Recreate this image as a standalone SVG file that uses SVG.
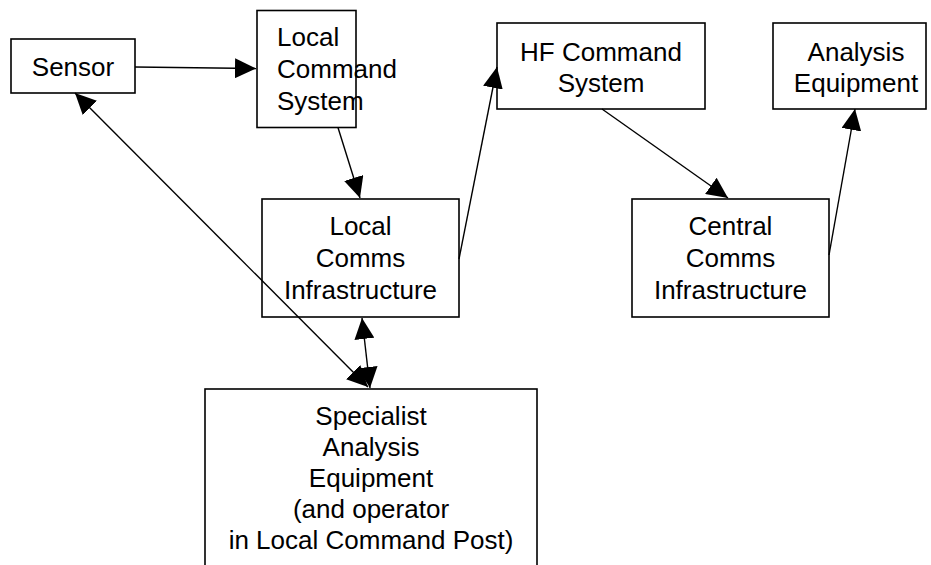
<svg xmlns="http://www.w3.org/2000/svg" width="931" height="565" viewBox="0 0 931 565">
<style>
  .box { fill: #ffffff; stroke: #000000; stroke-width: 1.6; }
  .lbl { font-family: "Liberation Sans", Arial, sans-serif; font-size: 26px; fill: #000000; }
  .mid { text-anchor: middle; }
  .edge { stroke: #000000; stroke-width: 1.4; fill: none; marker-end: url(#ah); }
  .both { marker-start: url(#ahs); }
</style>
<defs>
  <marker id="ah" markerUnits="userSpaceOnUse" markerWidth="22" markerHeight="20" refX="21" refY="10" orient="auto" viewBox="0 0 22 20">
    <path d="M0,0 L21,10 L0,20 z" fill="#000000"/>
  </marker>
  <marker id="ahs" markerUnits="userSpaceOnUse" markerWidth="22" markerHeight="20" refX="21" refY="10" orient="auto-start-reverse" viewBox="0 0 22 20">
    <path d="M0,0 L21,10 L0,20 z" fill="#000000"/>
  </marker>
</defs>

<g id="sensor">
  <rect class="box" x="11" y="39" width="124" height="54"/>
  <text class="lbl mid" x="73" y="76">Sensor</text>
</g>

<g id="local-command-system">
  <rect class="box" x="257" y="10.5" width="99" height="117"/>
  <text class="lbl" x="277" y="46">Local</text>
  <text class="lbl" x="277" y="78">Command</text>
  <text class="lbl" x="277" y="110">System</text>
</g>

<g id="hf-command-system">
  <rect class="box" x="497" y="23" width="208" height="86"/>
  <text class="lbl mid" x="601" y="61">HF Command</text>
  <text class="lbl mid" x="601" y="92">System</text>
</g>

<g id="analysis-equipment">
  <rect class="box" x="773" y="23" width="153" height="86"/>
  <text class="lbl mid" x="856" y="61">Analysis</text>
  <text class="lbl mid" x="856" y="92">Equipment</text>
</g>

<g id="local-comms-infrastructure">
  <rect class="box" x="262" y="199" width="197" height="118"/>
  <text class="lbl mid" x="360.5" y="235">Local</text>
  <text class="lbl mid" x="360.5" y="267">Comms</text>
  <text class="lbl mid" x="360.5" y="299">Infrastructure</text>
</g>

<g id="central-comms-infrastructure">
  <rect class="box" x="632" y="199" width="197" height="118"/>
  <text class="lbl mid" x="730.5" y="235">Central</text>
  <text class="lbl mid" x="730.5" y="267">Comms</text>
  <text class="lbl mid" x="730.5" y="299">Infrastructure</text>
</g>

<g id="specialist-analysis-equipment">
  <rect class="box" x="205" y="389" width="332" height="200"/>
  <text class="lbl mid" x="371" y="425">Specialist</text>
  <text class="lbl mid" x="371" y="456">Analysis</text>
  <text class="lbl mid" x="371" y="487">Equipment</text>
  <text class="lbl mid" x="371" y="518">(and operator</text>
  <text class="lbl mid" x="371" y="549">in Local Command Post)</text>
</g>

<g id="connectors">
  <line class="edge" x1="135" y1="67" x2="256" y2="68.5"/>
  <line class="edge" x1="338" y1="127.5" x2="360" y2="198"/>
  <line class="edge" x1="459" y1="259" x2="497" y2="67"/>
  <line class="edge" x1="602" y1="109" x2="728" y2="198"/>
  <line class="edge" x1="829" y1="255" x2="855" y2="109"/>
  <line class="edge both" x1="362" y1="318" x2="370" y2="388"/>
  <line class="edge both" x1="75" y1="93" x2="368" y2="387"/>
</g>
</svg>
